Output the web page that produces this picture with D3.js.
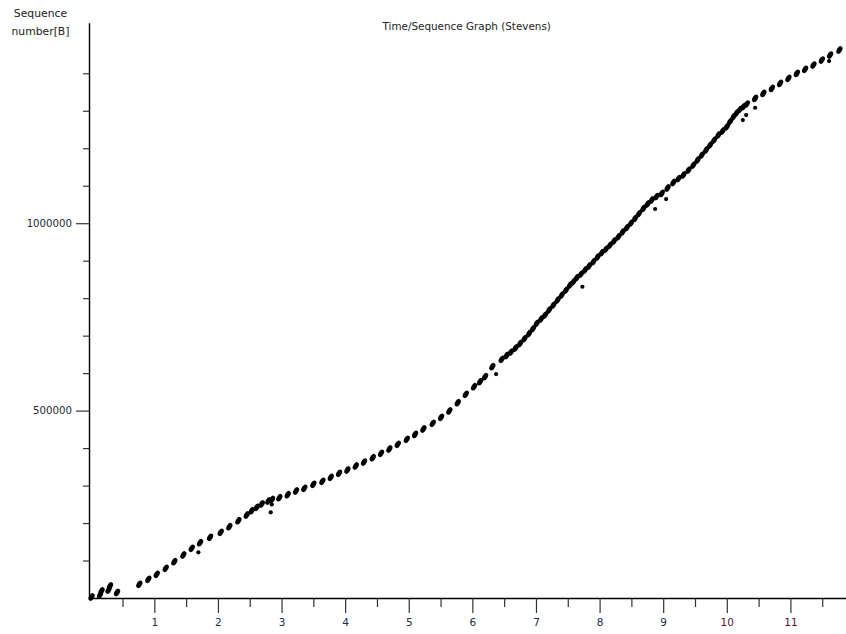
<!DOCTYPE html>
<html>
<head>
<meta charset="utf-8">
<script src="https://cdn.jsdelivr.net/npm/d3@7"></script>
<style>
	body { margin: 0; background: #fff; }
	text { font-family: "DejaVu Sans", sans-serif; }
</style>
</head>
<body>
<svg id="graph"></svg>
<script>
(function(){

	//Segments: time [s] and sequence number [B]
	var timeS = [0.013, 0.146, 0.170, 0.280, 0.303, 0.414,
		0.764, 0.906, 1.038, 1.179, 1.314, 1.456, 1.588, 1.719, 1.876, 2.044, 2.179, 2.321, 2.453, 2.531,
		2.610, 2.689, 2.792, 2.851, 2.965, 3.097, 3.228, 3.358, 3.500, 3.642, 3.774, 3.904, 4.035, 4.167,
		4.297, 4.434, 4.564, 4.695, 4.827, 4.969, 5.099, 5.230, 5.377, 5.508, 5.638, 5.770, 5.896, 6.027,
		6.121, 6.200, 6.314, 6.462, 6.538, 6.608, 6.679, 6.750, 6.821, 6.892, 6.954, 7.013, 7.080, 7.143,
		7.206, 7.274, 7.340, 7.406, 7.473, 7.536, 7.591, 7.642, 7.709, 7.772, 7.835, 7.903, 7.969, 8.035,
		8.102, 8.165, 8.228, 8.296, 8.362, 8.428, 8.495, 8.558, 8.621, 8.689, 8.755, 8.821, 8.896, 8.978,
		9.069, 9.160, 9.242, 9.318, 9.399, 9.475, 9.541, 9.607, 9.675, 9.738, 9.801, 9.868, 9.934, 10.000,
		10.052, 10.104, 10.154, 10.209, 10.264, 10.314, 10.445, 10.575, 10.708, 10.838, 10.969, 11.101,
		11.231, 11.362, 11.494, 11.624, 11.770];
	var seqB = [2700, 8000, 18700, 21300, 32000, 14700,
		36600, 49900, 63200, 79200, 96800, 114700, 132600, 147500, 161900, 175300, 190200, 206200, 221400, 232900,
		242000, 250800, 258800, 262800, 267600, 275600, 285500, 292700, 303400, 311400, 322000, 332700, 341500, 352200,
		362800, 374300, 386100, 397500, 410100, 423400, 436700, 450900, 466100, 482100, 498900, 521100, 543500, 563800,
		577100, 590400, 617100, 636900, 647000, 656300, 667000, 679000, 692300, 705700, 719000, 732900, 744400, 755000,
		768400, 781700, 795100, 808400, 821700, 835100, 844400, 854600, 864400, 875100, 885800, 897300, 909800, 921300,
		931100, 941800, 952500, 963900, 976500, 988000, 1000500, 1013000, 1025800, 1039700, 1051200, 1061900, 1071200, 1079700,
		1093900, 1108600, 1119200, 1128600, 1141900, 1155200, 1168600, 1181900, 1195300, 1208600, 1221900, 1235300, 1246000, 1257400,
		1271300, 1284100, 1294000, 1303900, 1311300, 1318000, 1333200, 1346500, 1359900, 1373200, 1386600, 1399900,
		1410600, 1422000, 1435400, 1448700, 1462100];

	//Stray segments below the main curve
	var strayTime = [1.692, 2.846, 2.830, 6.373, 7.730, 8.873, 9.046, 10.252, 10.304, 10.445, 11.608];
	var straySeq = [121900, 249500, 228600, 597600, 830500, 1037900, 1064500, 1275300, 1288600, 1308100, 1432700];

	//Axis ticks
	var xMajor = [1, 2, 3, 4, 5, 6, 7, 8, 9, 10, 11];
	var xMinor = [0.5, 1.5, 2.5, 3.5, 4.5, 5.5, 6.5, 7.5, 8.5, 9.5, 10.5, 11.5];
	var yMajor = [500000, 1000000];
	var yMinor = [100000, 200000, 300000, 400000, 600000, 700000, 800000, 900000, 1100000, 1200000, 1300000, 1400000];

	var svgWidth = 846, svgHeight = 634;
	var svg = d3.select("#graph").attr("width", svgWidth).attr("height", svgHeight);

	var x = d3.scaleLinear().domain([-0.027, 11.874]).range([89, 846]);
	var y = d3.scaleLinear().domain([0, 1535000]).range([598, 22.7]);

	//y axis
	svg.append("g").attr("class", "yMinor")
		.attr("transform", "translate(89,0)")
		.call(d3.axisLeft(y).tickValues(yMinor).tickSize(6).tickFormat(""));
	svg.append("g").attr("class", "yMajor")
		.attr("transform", "translate(89,0)")
		.call(d3.axisLeft(y).tickValues(yMajor).tickSize(13).tickSizeOuter(0).tickPadding(4).tickFormat(d3.format("d")));

	//x axis
	svg.append("g").attr("class", "xMinor")
		.attr("transform", "translate(0,598)")
		.call(d3.axisBottom(x).tickValues(xMinor).tickSize(9).tickFormat(""));
	svg.append("g").attr("class", "xMajor")
		.attr("transform", "translate(0,598)")
		.call(d3.axisBottom(x).tickValues(xMajor).tickSize(15).tickSizeOuter(0).tickPadding(6).tickFormat(d3.format("d")));

	svg.selectAll(".yMinor .domain, .xMinor .domain").remove();
	svg.selectAll(".domain").attr("stroke", "#000").attr("stroke-width", 1.4);
	svg.selectAll(".tick line").attr("stroke", "#333").attr("stroke-width", 1.2);
	svg.selectAll(".yMajor .tick text").attr("fill", "#1f2a36").attr("font-size", "10.2px")
		.attr("font-family", "'DejaVu Sans', sans-serif");
	svg.selectAll(".xMajor .tick text")
		.attr("fill", function(d){ return d >= 10 ? "#5a1030" : "#1c2b4a"; })
		.attr("font-size", "10.5px")
		.attr("font-family", "'DejaVu Sans', sans-serif");

	//Labels
	svg.append("text").attr("x", 466.7).attr("y", 29.5).attr("text-anchor", "middle")
		.attr("font-size", "10.4px").attr("fill", "#222").text("Time/Sequence Graph (Stevens)");
	svg.append("text").attr("x", 40.5).attr("y", 17).attr("text-anchor", "middle")
		.attr("font-size", "10.8px").attr("fill", "#222").text("Sequence");
	svg.append("text").attr("x", 40.5).attr("y", 35).attr("text-anchor", "middle")
		.attr("font-size", "10.8px").attr("fill", "#222").text("number[B]");

	//Segments
	var points = d3.range(timeS.length).map(function(i){ return {t: timeS[i], s: seqB[i]}; });
	svg.append("g").selectAll(".seg")
		.data(points)
		.enter()
		.append("ellipse")
		.classed("seg", true)
		.attr("transform", function(d){ return "translate(" + x(d.t) + "," + y(d.s) + ") rotate(30)"; })
		.attr("rx", 2.6)
		.attr("ry", 4.1)
		.attr("fill", "#000");

	var strays = d3.range(strayTime.length).map(function(i){ return {t: strayTime[i], s: straySeq[i]}; });
	svg.append("g").selectAll(".stray")
		.data(strays)
		.enter()
		.append("circle")
		.classed("stray", true)
		.attr("cx", function(d){ return x(d.t); })
		.attr("cy", function(d){ return y(d.s); })
		.attr("r", 2.1)
		.attr("fill", "#000");

})();
</script>
</body>
</html>
